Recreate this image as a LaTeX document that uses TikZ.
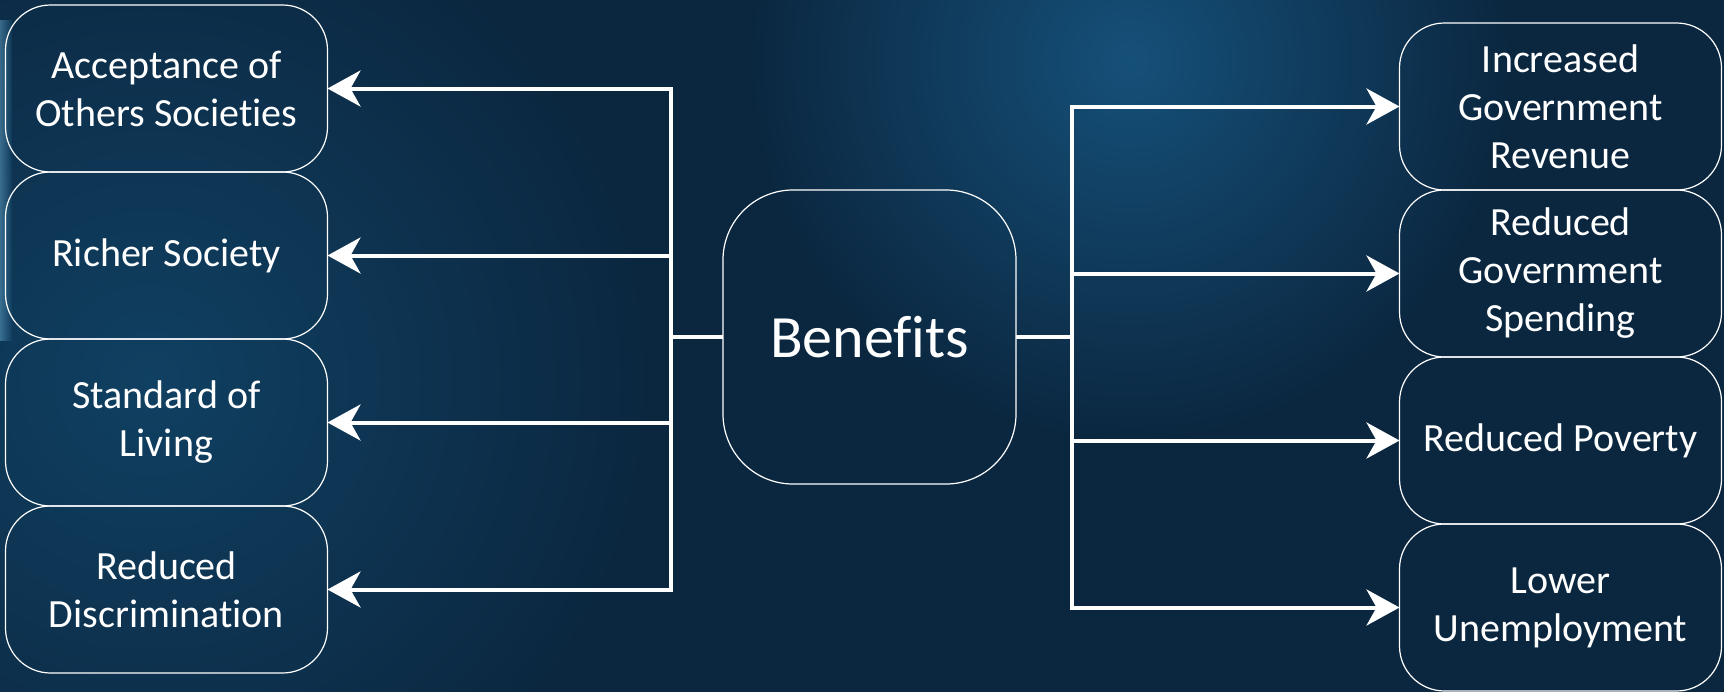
\documentclass[tikz,border=0pt]{standalone}
\usepackage{fontspec}
\setmainfont[Ligatures={NoCommon,NoContextual}]{Carlito}
\usetikzlibrary{positioning,arrows.meta}

\definecolor{bgdark}{HTML}{0B2740}
\definecolor{bgmid}{HTML}{104062}
\definecolor{bglight}{HTML}{155079}
\definecolor{glow}{HTML}{6FB3D8}

\begin{document}
\begin{tikzpicture}[x=1pt,y=-1pt,
	item/.style={shape=rectangle,rounded corners=45pt,draw=white,line width=1.2pt,
		minimum width=322pt,minimum height=167pt,inner sep=0pt,outer sep=0pt,
		text=white,align=center,font=\fontsize{40}{48}\selectfont},
	hub/.style={shape=rectangle,rounded corners=70pt,draw=white,line width=1.2pt,
		minimum width=293pt,minimum height=294pt,outer sep=0pt,
		text=white,font=\fontsize{60}{72}\selectfont},
	link/.style={draw=white,line width=4pt},
	arr/.style={link,-{Stealth[length=33pt,width=36pt,inset=10pt]}}]

	% background
	\useasboundingbox (0,0) rectangle (1724,691);
	\begin{scope}
		\clip (-20,-20) rectangle (1744,711);
		\fill[bgdark] (-20,-20) rectangle (1744,711);
		\shade[inner color=bgmid,outer color=bgdark] (150,380) circle (500pt);
		\shade[inner color=bglight,outer color=bgdark] (1130,60) circle (380pt);
		\shade[left color=glow,right color=bgmid,opacity=0.45] (0,20) rectangle (12,340);
	\end{scope}

	\node[hub] (ben) at (869.5,337) {Benefits};

	\node[item] (l1) at (166.5,88.5) {Acceptance of\\Others Societies};
	\node[item] (l2) [below=0pt of l1] {Richer Society};
	\node[item] (l3) [below=0pt of l2] {Standard of\\Living};
	\node[item] (l4) [below=0pt of l3] {Reduced\\Discrimination};

	\node[item] (r1) at (1560.5,106.5) {Increased\\Government\\Revenue};
	\node[item] (r2) [below=0pt of r1] {Reduced\\Government\\Spending};
	\node[item] (r3) [below=0pt of r2] {Reduced Poverty};
	\node[item] (r4) [below=0pt of r3] {Lower\\Unemployment};

	\coordinate (lt) at (671,337);
	\coordinate (rt) at (1072,337);

	\draw[link] (ben.west) -- (lt);
	\draw[link,line cap=rect] (lt |- l1.east) -- (lt |- l4.east);
	\draw[arr] (lt |- l1.east) -- (l1.east);
	\draw[arr] (lt |- l2.east) -- (l2.east);
	\draw[arr] (lt |- l3.east) -- (l3.east);
	\draw[arr] (lt |- l4.east) -- (l4.east);

	\draw[link] (ben.east) -- (rt);
	\draw[link,line cap=rect] (rt |- r1.west) -- (rt |- r4.west);
	\draw[arr] (rt |- r1.west) -- (r1.west);
	\draw[arr] (rt |- r2.west) -- (r2.west);
	\draw[arr] (rt |- r3.west) -- (r3.west);
	\draw[arr] (rt |- r4.west) -- (r4.west);
\end{tikzpicture}
\end{document}
